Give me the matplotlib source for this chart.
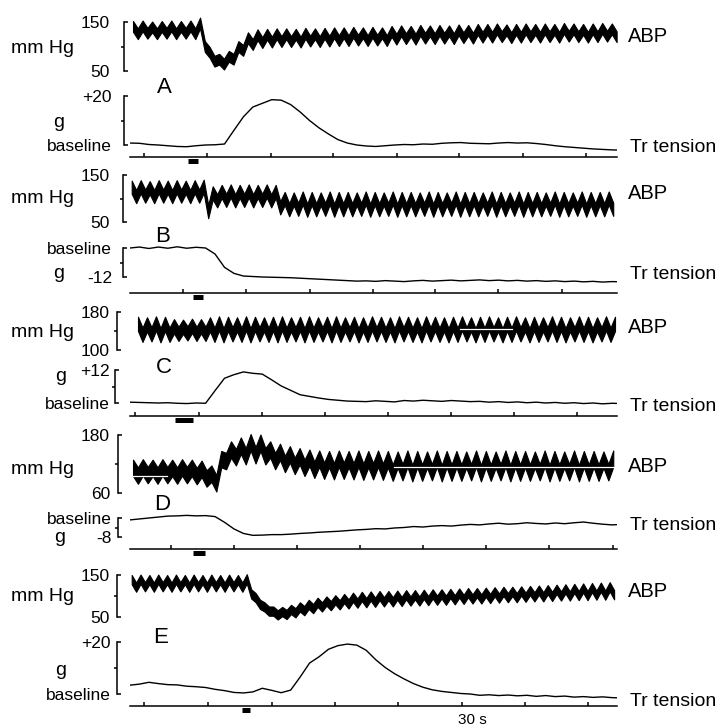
import numpy as np
import matplotlib
matplotlib.use("Agg")
import matplotlib.pyplot as plt
import matplotlib.transforms as mtransforms

plt.rcParams['font.family'] = ['Liberation Sans', 'DejaVu Sans']

W, H = 721, 728
PT = 72 / 100          # points per pixel at dpi 100
X0, X1 = 130, 617      # left / right edge of every time base, px
T_END = 77.3           # seconds shown on each time base
TEN_DT = 1.5           # sampling step of the tension traces, s

# ---------------- A ----------------
A_beat_t0, A_beat_dt = 0.48, 1.52
A_abp_peak = [141, 142, 140, 141, 142, 141, 142, 148,
              88, 74, 80, 100, 118, 124, 125,
              126, 126, 125, 127, 126, 127,
              128, 128, 129, 128, 129, 128,
              131, 132, 131, 133, 132, 133, 132, 134, 133,
              135, 135, 136, 134, 135, 136, 135, 136, 135, 137, 136, 135, 136, 137, 136]
A_abp_trough = [126, 127, 126, 127, 126, 127, 126, 100,
                70, 64, 74, 92, 104, 108, 109,
                110, 110, 109, 111, 110, 111,
                112, 112, 113, 112, 113, 112,
                115, 116, 115, 117, 116, 117, 116, 118, 117,
                119, 119, 120, 118, 119, 120, 119, 120, 119, 121, 120, 119, 120, 121, 120]
A_abp_band = 22
A_tension = [0.8, 0.7, 0.2, 0.0, -0.3, -0.6, -0.7, -0.3, 0.0, 0.1,
             0.4, 6.0, 11.5, 15.5, 17.0, 18.5, 18.3, 16.5, 13.5, 10.0,
             7.0, 4.5, 2.2, 0.8, 0.0, -0.4, -0.6, -0.3, 0.0, 0.2,
             0.1, 0.4, 0.3, 0.7, 0.9, 1.0, 0.7, 0.6, 0.5, 0.8,
             1.0, 0.8, 0.9, 0.6, 0.2, -0.3, -0.7, -1.0, -1.3, -1.6,
             -1.8, -2.0, -2.1]
A_ticks = [2.2, 12.2, 22.4, 32.2, 42.4, 52.2, 62.4, 72.4]
A_stim = [9.2, 10.8]

# ---------------- B ----------------
B_beat_t0, B_beat_dt = 0.27, 1.4286
B_abp_peak = [124, 125, 123, 125, 124, 125, 124, 125, 126,
              112, 115, 116, 115, 116, 115, 116, 115,
              100, 99, 101, 100, 99, 101, 100, 100, 99, 101,
              100, 99, 101, 100, 100, 99, 101, 100, 99, 101,
              100, 100, 99, 101, 100, 99, 101, 100, 100, 99,
              101, 100, 99, 101, 100, 100, 101]
B_abp_trough = [104, 105, 104, 105, 104, 105, 104, 105, 72,
                95, 96, 95, 96, 95, 96, 95, 80,
                76, 77, 75, 76, 77, 75, 76, 76, 77, 75,
                76, 77, 75, 76, 76, 77, 75, 76, 77, 75,
                76, 76, 77, 75, 76, 77, 75, 76, 76, 77,
                75, 76, 77, 75, 76, 76, 77]
B_abp_band = 28
B_tension = [0.0, 0.4, -0.2, 0.4, -0.1, 0.5, -0.1, 0.3, 0.0, -2.5,
             -8.0, -10.5, -11.6, -11.8, -12.0, -12.1, -12.2, -12.3, -12.5, -12.7,
             -12.9, -13.1, -13.3, -13.5, -13.7,
             -13.6, -13.8, -13.5, -13.7, -13.9, -13.6, -13.4, -13.7, -13.5, -13.3,
             -13.6, -13.4, -13.2, -13.5, -13.3, -13.6, -13.4, -13.7, -13.5, -13.8,
             -13.6, -13.9, -13.7, -14.0, -13.8, -14.1, -13.9, -14.0]
B_ticks = [8.4, 18.4, 28.5, 38.5, 48.4, 58.4, 68.5]
B_stim = [10.0, 11.6]

# ---------------- C ----------------
C_beat_t0, C_beat_dt = 1.27, 1.4286
C_abp_peak = [155, 154, 156, 155, 150, 149, 151, 150, 154, 156,
              155, 154, 156, 155, 154, 155, 156, 154, 155, 156,
              154, 155, 156, 154, 155, 154, 156, 155, 154, 156,
              155, 154, 156, 155, 154, 155, 156, 154, 155, 156,
              154, 155, 156, 154, 155, 154, 156, 155, 154, 156,
              155, 154, 156, 155]
C_abp_trough = [132, 133, 131, 132, 134, 135, 134, 134, 132, 131,
                133, 132, 131, 133, 132, 131, 132, 133, 131, 132,
                133, 131, 132, 133, 131, 132, 133, 132, 131, 133,
                132, 131, 133, 132, 131, 132, 133, 131, 132, 133,
                131, 132, 133, 131, 132, 133, 132, 131, 133, 132,
                131, 133, 132, 131]
C_abp_band = 30
C_tension = [0.3, 0.2, 0.1, 0.0, 0.1, -0.1, -0.2, 0.0, -0.1, 4.5,
             9.0, 10.3, 11.3, 10.8, 10.5, 8.4, 6.2, 4.6, 3.0, 2.4,
             1.8, 1.3, 1.0, 0.7, 0.6,
             0.5, 0.8, 0.6, 0.4, 0.9, 0.7, 1.0, 0.8, 0.6, 0.9,
             0.7, 0.5, 0.6, 0.3, 0.5, 0.2, 0.4, 0.1, 0.3, 0.0,
             0.2, -0.1, 0.1, -0.2, 0.0, -0.3, -0.1, -0.2]
C_ticks = [0.8, 10.9, 20.9, 30.9, 40.9, 51.0, 61.0, 71.0]
C_stim = [7.1, 10.0]
C_white_t = [52.4, 60.6]
C_white_v = [144, 144]

# ---------------- D ----------------
D_beat_t0, D_beat_dt = 0.48, 1.5556
D_abp_peak = [112, 113, 112, 113, 112, 113, 112, 110, 100,
              130, 150, 158, 165, 164, 150, 145, 140, 136, 133,
              131, 130, 131, 130, 131, 130, 131,
              130, 129, 131, 130, 129, 131, 130, 130, 129, 131, 130, 129,
              131, 130, 130, 129, 131, 130, 129, 131, 130, 130, 129, 131]
D_abp_trough = [96, 97, 96, 97, 96, 97, 95, 90, 80,
                126, 134, 136, 138, 136, 126, 120, 116, 112, 108,
                106, 105, 106, 105, 104, 105, 104,
                102, 103, 101, 102, 103, 101, 102, 102, 103, 101, 102, 103,
                101, 102, 102, 103, 101, 102, 103, 101, 102, 102, 103, 101]
D_abp_band = 34
D_tension = [-0.8, -0.4, 0.0, 0.4, 0.8, 0.9, 1.1, 0.9, 1.0, 0.6,
             -1.8, -4.6, -6.5, -7.3, -7.2, -7.0, -7.0, -6.8, -6.5, -6.3,
             -6.0, -5.8, -5.6, -5.3, -5.0,
             -4.8, -4.5, -4.6, -4.2, -4.0, -3.6, -3.8, -3.4, -3.2, -3.4,
             -3.0, -2.7, -2.9, -2.5, -2.2, -2.6, -2.4, -2.0, -2.3, -2.5,
             -2.1, -2.4, -2.0, -1.7, -2.2, -2.6, -2.9, -2.7]
D_ticks = [6.5, 16.5, 26.5, 36.5, 46.5, 56.5, 66.5, 76.6]
D_stim = [10.0, 11.9]
D_white_t = [[0.3, 5.9], [41.9, 77.3]]
D_white_v = [[95, 95], [114, 114]]

# ---------------- E ----------------
E_beat_t0, E_beat_dt = 0.27, 1.405
E_abp_peak = [139, 140, 139, 140, 139, 140, 139, 140, 139, 140, 139, 140, 139, 141,
              96, 74, 64, 63, 68, 74, 80, 85, 88, 91, 94, 97, 99,
              100, 101, 101, 102, 103, 103, 104, 105, 105, 106, 107, 108, 108, 109,
              110, 111, 111, 112, 113, 114, 115, 116, 117, 118, 119, 120, 121, 122]
E_abp_trough = [121, 122, 121, 122, 121, 122, 121, 122, 121, 122, 121, 122, 121, 105,
                80, 64, 55, 56, 60, 65, 70, 74, 77, 79, 81, 83, 84,
                85, 86, 86, 87, 88, 88, 89, 90, 90, 91, 92, 93, 93, 94,
                95, 96, 96, 97, 98, 98, 99, 100, 100, 101, 101, 102, 102, 103]
E_abp_band = 22
E_tension = [3.4, 3.8, 4.5, 4.0, 3.6, 3.5, 3.0, 2.8, 2.5, 1.8,
             1.3, 0.6, 0.4, 0.8, 2.2, 1.4, 0.5, 1.5, 6.5, 11.9,
             14.3, 17.2, 18.6, 19.2, 18.8, 16.8, 13.2, 10.2, 7.8, 5.8,
             4.0, 2.6, 1.6, 1.0, 0.6, 0.2, 0.0, -0.5, -0.3, -0.6,
             -0.4, -0.7, -0.5, -0.9, -0.6, -1.0, -0.8, -1.2, -1.0, -1.3,
             -1.1, -1.4, -1.5]
E_ticks = [2.2, 12.4, 22.5, 32.5, 42.5, 52.7, 62.7, 72.7]
E_stim = [17.8, 19.0]

fig = plt.figure(figsize=(W / 100, H / 100), dpi=100)
fig.patch.set_facecolor('white')


def ftext(x, y, s, size=14, ha='left', va='baseline'):
    fig.text(x / W, 1 - y / H, s, fontsize=size, ha=ha, va=va, color='k')


def add_trace_ax(top_px, bot_px, v_top, v_bot, ax_top, ax_bot, bracket_x, label_pad, labels):
    # y range is set so that v_top / v_bot land on top_px / bot_px
    k = (v_top - v_bot) / (bot_px - top_px)
    ax = fig.add_axes([X0 / W, 1 - ax_bot / H, (X1 - X0) / W, (ax_bot - ax_top) / H])
    ax.set_xlim(0, T_END)
    ax.set_ylim(v_bot - (ax_bot - bot_px) * k, v_top + (top_px - ax_top) * k)
    ax.patch.set_visible(False)
    for s in ('top', 'right', 'bottom'):
        ax.spines[s].set_visible(False)
    sp = ax.spines['left']
    sp.set_bounds(v_bot, v_top)
    sp.set_position(('outward', (X0 - bracket_x) * PT))
    sp.set_linewidth(1.1)
    ax.set_yticks([v_bot, v_top])
    ax.set_yticklabels(labels)
    ax.set_yticks([(v_bot + v_top) / 2], minor=True)
    ax.tick_params(axis='y', which='major', direction='in', length=4 * PT, width=1.1,
                   pad=label_pad * PT, labelsize=12.5)
    ax.tick_params(axis='y', which='minor', direction='out', length=3.5 * PT, width=1.1)
    ax.set_xticks([])
    return ax


def draw_abp(ax, t0, dt, peaks, troughs, band):
    tp = t0 + dt * np.arange(len(peaks))
    t = np.ravel(np.column_stack([tp, tp + dt / 2]))
    c = np.ravel(np.column_stack([peaks, troughs])).astype(float)
    keep = t <= T_END
    ax.fill_between(t[keep], c[keep] - band / 2, c[keep] + band / 2,
                    color='k', lw=0.8, clip_on=False)


def draw_tension(ax, vals, ticks, stim):
    t = TEN_DT * np.arange(len(vals))
    ax.plot(t, vals, color='k', lw=1.0)
    ax.spines['bottom'].set_visible(True)
    ax.spines['bottom'].set_linewidth(1.1)
    ax.set_xticks(ticks)
    ax.tick_params(axis='x', direction='in', length=4 * PT, width=1.1, labelbottom=False)
    # stimulus bar just under the time base
    tr = mtransforms.offset_copy(ax.get_xaxis_transform(), fig=fig, y=-3.5, units='dots')
    ax.plot(stim, [0, 0], color='k', lw=5 * PT, solid_capstyle='butt',
            transform=tr, clip_on=False)


# layout of each row in pixels: ABP bracket, tension bracket, time base, label spots
panels = [
    dict(name='A', abp=(22, 71, 150, 50, 14, 79), abp_br=124, abp_pad=14, abp_lab=['50', '150'],
         ten=(96, 145, 20, 0, 88, 157), ten_br=124, ten_pad=12, ten_lab=['baseline', '+20'],
         beat=(A_beat_t0, A_beat_dt), peak=A_abp_peak, trough=A_abp_trough, band=A_abp_band,
         tension=A_tension, ticks=A_ticks, stim=A_stim,
         mm=53, g=(59, 127), letter=(164, 93), abp_y=42, tr_y=152),
    dict(name='B', abp=(175, 222, 150, 50, 167, 230), abp_br=123, abp_pad=13, abp_lab=['50', '150'],
         ten=(248, 277, 0, -12, 240, 293), ten_br=123, ten_pad=11, ten_lab=['-12', 'baseline'],
         beat=(B_beat_t0, B_beat_dt), peak=B_abp_peak, trough=B_abp_trough, band=B_abp_band,
         tension=B_tension, ticks=B_ticks, stim=B_stim,
         mm=203, g=(59, 278), letter=(163, 242), abp_y=199, tr_y=279),
    dict(name='C', abp=(312, 350, 180, 100, 304, 358), abp_br=117, abp_pad=7, abp_lab=['100', '180'],
         ten=(370, 403, 12, 0, 362, 416), ten_br=115, ten_pad=5, ten_lab=['baseline', '+12'],
         beat=(C_beat_t0, C_beat_dt), peak=C_abp_peak, trough=C_abp_trough, band=C_abp_band,
         tension=C_tension, ticks=C_ticks, stim=C_stim,
         mm=337, g=(61, 381), letter=(164, 373), abp_y=333, tr_y=411),
    dict(name='D', abp=(435, 493, 180, 60, 427, 500), abp_br=118, abp_pad=8, abp_lab=['60', '180'],
         ten=(518, 537, 0, -8, 510, 549), ten_br=118, ten_pad=6, ten_lab=['-8', 'baseline'],
         beat=(D_beat_t0, D_beat_dt), peak=D_abp_peak, trough=D_abp_trough, band=D_abp_band,
         tension=D_tension, ticks=D_ticks, stim=D_stim,
         mm=474, g=(60, 542), letter=(162, 510), abp_y=472, tr_y=530),
    dict(name='E', abp=(575, 617, 150, 50, 567, 625), abp_br=117, abp_pad=7, abp_lab=['50', '150'],
         ten=(642, 694, 20, 0, 634, 706), ten_br=117, ten_pad=6, ten_lab=['baseline', '+20'],
         beat=(E_beat_t0, E_beat_dt), peak=E_abp_peak, trough=E_abp_trough, band=E_abp_band,
         tension=E_tension, ticks=E_ticks, stim=E_stim,
         mm=601, g=(61, 675), letter=(161, 643), abp_y=597, tr_y=706),
]

abp_axes = {}
for p in panels:
    ax_p = add_trace_ax(*p['abp'], p['abp_br'], p['abp_pad'], p['abp_lab'])
    draw_abp(ax_p, p['beat'][0], p['beat'][1], p['peak'], p['trough'], p['band'])
    abp_axes[p['name']] = ax_p

    ax_t = add_trace_ax(*p['ten'], p['ten_br'], p['ten_pad'], p['ten_lab'])
    draw_tension(ax_t, p['tension'], p['ticks'], p['stim'])

    ftext(11, p['mm'], 'mm Hg', size=14)
    ftext(p['g'][0], p['g'][1], 'g', size=14, ha='center')
    ftext(p['letter'][0], p['letter'][1], p['name'], size=16, ha='center')
    ftext(628, p['abp_y'], 'ABP', size=14.5)
    ftext(630, p['tr_y'], 'Tr tension', size=14)

# thin white scan lines crossing the ABP band in C and D
abp_axes['C'].plot(C_white_t, C_white_v, color='white', lw=0.9)
for tt, vv in zip(D_white_t, D_white_v):
    abp_axes['D'].plot(tt, vv, color='white', lw=0.9)

ftext(472, 724, '30 s', size=11, ha='center')

fig.savefig('out.png', dpi=100, facecolor='white')
